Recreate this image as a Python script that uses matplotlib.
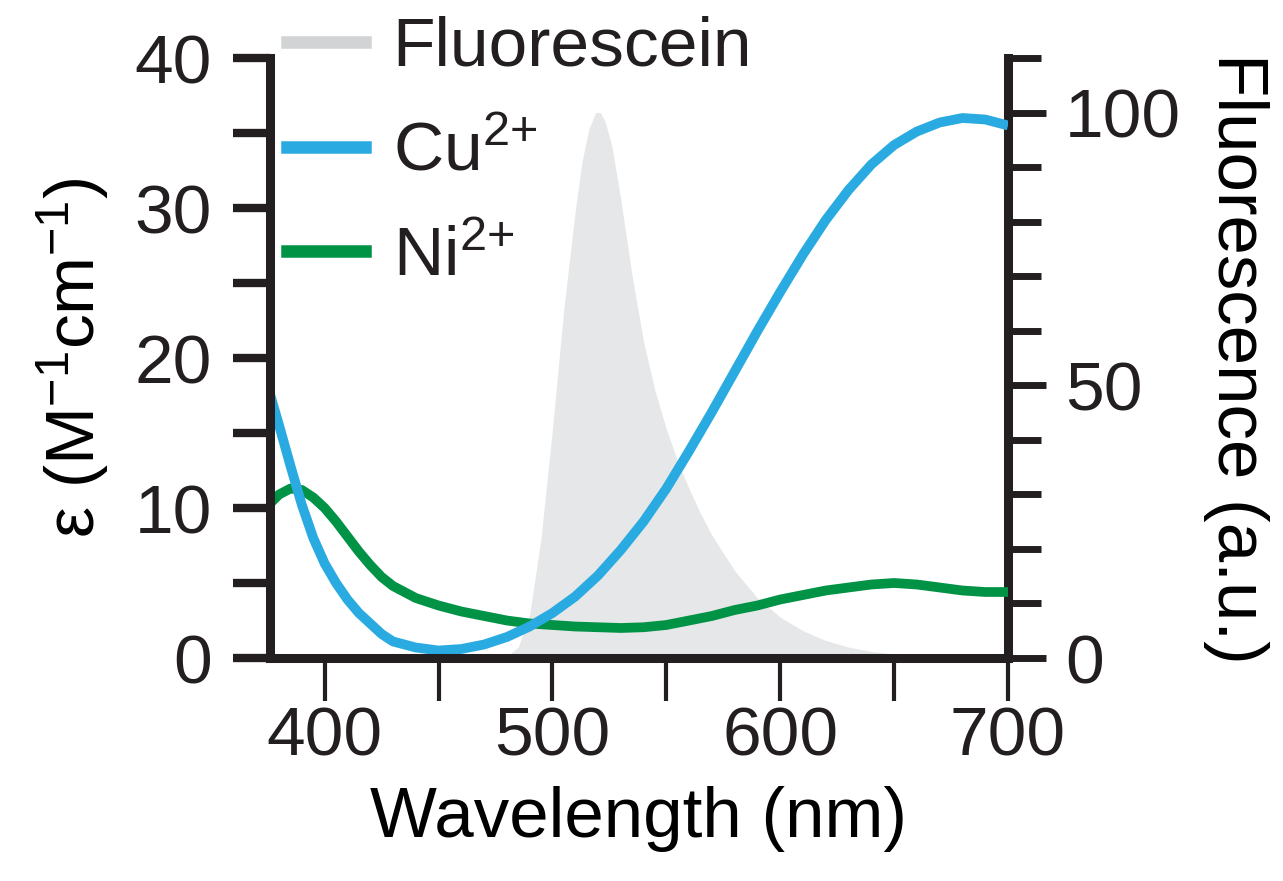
import numpy as np
import matplotlib.pyplot as plt
from matplotlib.lines import Line2D
from matplotlib.ticker import MultipleLocator

plt.rcParams['font.family'] = ['Liberation Sans', 'DejaVu Sans']
plt.rcParams['mathtext.fontset'] = 'custom'
plt.rcParams['mathtext.rm'] = 'Liberation Sans'
plt.rcParams['mathtext.it'] = 'Liberation Sans:italic'
plt.rcParams['text.color'] = '#231f20'

# Cu2+ absorption (left axis, M-1 cm-1)
cu_nm = [376, 380, 385, 390, 395, 400, 405, 410, 415, 420, 425, 430, 440, 450, 460,
         470, 480, 490, 500, 510, 520, 530, 540, 550, 560, 570, 580, 590, 600, 610,
         620, 630, 640, 650, 660, 670, 680, 690, 700]
cu_eps = [17.6, 15.5, 12.8, 10.2, 8.0, 6.3, 5.0, 3.9, 3.0, 2.3, 1.6, 1.1, 0.7, 0.5, 0.6,
          0.9, 1.4, 2.1, 3.0, 4.1, 5.5, 7.2, 9.1, 11.3, 13.8, 16.4, 19.1, 21.8, 24.4, 26.9,
          29.2, 31.2, 32.9, 34.2, 35.1, 35.7, 36.0, 35.9, 35.5]

# Ni2+ absorption (left axis)
ni_nm = [376, 380, 385, 390, 395, 400, 405, 410, 415, 420, 425, 430, 440, 450, 460,
         470, 480, 490, 500, 510, 520, 530, 540, 550, 560, 570, 580, 590, 600, 610,
         620, 630, 640, 650, 660, 670, 680, 690, 700]
ni_eps = [10.3, 10.9, 11.3, 11.2, 10.7, 10.0, 9.1, 8.1, 7.1, 6.2, 5.4, 4.8, 4.0, 3.5, 3.1,
          2.8, 2.5, 2.3, 2.2, 2.1, 2.05, 2.0, 2.05, 2.2, 2.5, 2.8, 3.2, 3.5, 3.9, 4.2,
          4.5, 4.7, 4.9, 5.0, 4.9, 4.7, 4.5, 4.4, 4.4]

# fluorescein emission (right axis, a.u.)
fl_nm = [376, 470, 480, 485, 490, 495, 500, 505, 510, 513, 516, 519, 521, 523, 526,
         530, 535, 540, 545, 550, 555, 560, 565, 570, 580, 590, 600, 610, 620, 630,
         640, 650, 660, 680, 700]
fl_int = [0, 0, 0.3, 2, 8, 22, 42, 64, 82, 91, 97, 100, 100, 98.5, 94,
          84, 70, 58, 49, 42, 36, 31, 26.5, 22.5, 16, 11, 7.5, 5, 3.2, 2,
          1.2, 0.7, 0.4, 0.1, 0]

labels = ['Fluorescein', 'Cu$^{2{+}}$', 'Ni$^{2{+}}$']
ink = '#231f20'
blue = '#29abe2'
green = '#009245'

fig = plt.figure(figsize=(12.83, 8.81), dpi=100)
ax = fig.add_axes([270 / 1283, 223 / 881, 738 / 1283, 600 / 881])
ax2 = ax.twinx()

ax2.fill_between(fl_nm, fl_int, 0, color='#e6e7e8', lw=0)
ax.plot(ni_nm, ni_eps, color=green, lw=7, solid_capstyle='butt')
ax.plot(cu_nm, cu_eps, color=blue, lw=7, solid_capstyle='butt')

# lines above the fluorescein fill
ax.set_zorder(ax2.get_zorder() + 1)
ax.patch.set_visible(False)

ax.set_xlim(376, 700)
ax.set_ylim(0, 40)
ax2.set_ylim(0, 110)

ax.xaxis.set_major_locator(MultipleLocator(100))
ax.xaxis.set_minor_locator(MultipleLocator(50))
ax.yaxis.set_major_locator(MultipleLocator(10))
ax.yaxis.set_minor_locator(MultipleLocator(5))
ax2.yaxis.set_major_locator(MultipleLocator(50))
ax2.yaxis.set_minor_locator(MultipleLocator(10))

for s in ['top', 'right']:
    ax.spines[s].set_visible(False)
for s in ['top', 'left', 'bottom']:
    ax2.spines[s].set_visible(False)
for s in ['left', 'bottom']:
    ax.spines[s].set_linewidth(6.5)
    ax.spines[s].set_color(ink)
ax2.spines['right'].set_linewidth(6.5)
ax2.spines['right'].set_color(ink)

ax.tick_params(axis='y', which='both', direction='out', length=27, width=6,
               pad=15, labelsize=50, color=ink, labelcolor=ink)
ax.tick_params(axis='x', which='both', direction='out', length=31, width=3,
               pad=3, labelsize=50, color=ink, labelcolor=ink)
ax2.tick_params(axis='y', which='major', direction='out', length=27, width=5,
                pad=14, labelsize=50, color=ink, labelcolor=ink)
ax2.tick_params(axis='y', which='minor', direction='out', length=24, width=5,
                color=ink)

# zero ticks are grey in the original
ax.yaxis.get_major_ticks()[0].tick1line.set_color('#8a8a8a')
ax2.yaxis.get_major_ticks()[0].tick2line.set_color('#8a8a8a')

ax.set_xlabel('Wavelength (nm)', fontsize=51, labelpad=12)
ax.set_ylabel('ε (M$^{-1}$cm$^{-1}$)', fontsize=50)
ax.yaxis.set_label_coords(-0.215, 0.5)
ax2.set_ylabel('Fluorescence (a.u.)', fontsize=51, rotation=270, va='bottom',
               labelpad=16)

handles = [Line2D([], [], color='#d1d3d4', lw=9),
           Line2D([], [], color=blue, lw=9),
           Line2D([], [], color=green, lw=9)]
ax.legend(handles, labels, loc='upper left', bbox_to_anchor=(287 / 1283, 0.982),
          bbox_transform=fig.transFigure, frameon=False, fontsize=50,
          handlelength=1.13, handletextpad=0.39, labelspacing=0.59,
          borderpad=0, borderaxespad=0)

fig.savefig('out.png', dpi=100)
